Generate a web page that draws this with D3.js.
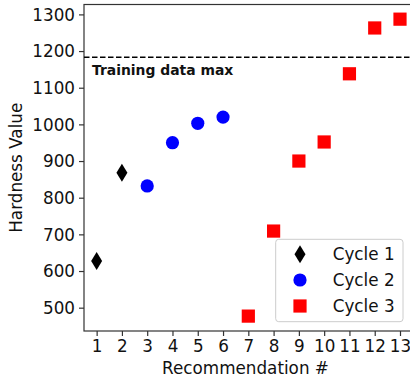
<!DOCTYPE html>
<html>
<head>
<meta charset="utf-8">
<script src="https://cdn.jsdelivr.net/npm/d3@7"></script>
<style>
  body { margin: 0; background: #fff; }
  text { font-family: "DejaVu Sans", sans-serif; }
</style>
</head>
<body>
<div id="container"></div>
<script>
const cycle1X = [1, 2]
const cycle1Y = [627, 868]
const cycle2X = [3, 4, 5, 6]
const cycle2Y = [832, 950, 1003, 1020]
const cycle3X = [7, 8, 9, 10, 11, 12, 13]
const cycle3Y = [477, 709, 900, 952, 1138, 1263, 1287]
const trainingMax = 1183
const xTicks = [1, 2, 3, 4, 5, 6, 7, 8, 9, 10, 11, 12, 13]
const yTicks = [500, 600, 700, 800, 900, 1000, 1100, 1200, 1300]
const legendLabels = ["Cycle 1", "Cycle 2", "Cycle 3"]

const w = 410
const h = 377
const mLeft = 84, mTop = 4.5, mRight = 413, mBottom = 331

const svg = d3.select("#container")
  .append("svg")
  .attr("width", w)
  .attr("height", h)

const x = d3.scaleLinear().domain([0.5, 13.5]).range([mLeft, mLeft + 13 * 25.28])
const y = d3.scaleLinear().domain([436.4, 1327]).range([mBottom, mTop])

// axes
const xAxis = svg.append("g")
  .attr("transform", `translate(0,${mBottom})`)
  .call(d3.axisBottom(x).tickValues(xTicks).tickFormat(d3.format("d")).tickSize(5).tickPadding(4))
const yAxis = svg.append("g")
  .attr("transform", `translate(${mLeft},0)`)
  .call(d3.axisLeft(y).tickValues(yTicks).tickFormat(d3.format("d")).tickSize(5).tickPadding(4))

for (const ax of [xAxis, yAxis]) {
  ax.select(".domain").remove()
  ax.selectAll("line").attr("stroke", "#333").attr("stroke-width", 1.2)
  ax.selectAll("text").attr("font-size", "16.8px").attr("fill", "#111")
}
yAxis.selectAll("text").attr("dy", "0.34em")

// frame
svg.append("rect")
  .attr("x", mLeft).attr("y", mTop)
  .attr("width", mRight - mLeft).attr("height", mBottom - mTop)
  .attr("fill", "none").attr("stroke", "#333").attr("stroke-width", 1.2)

svg.append("text")
  .attr("x", (mLeft + 407) / 2).attr("y", 374)
  .attr("text-anchor", "middle").attr("font-size", "16.8px").attr("fill", "#111")
  .text("Recommendation #")
svg.append("text")
  .attr("transform", `translate(16,${(mTop + mBottom) / 2}) rotate(-90)`)
  .attr("text-anchor", "middle").attr("dy", "0.36em").attr("font-size", "16.8px").attr("fill", "#111")
  .text("Hardness Value")

// training max line
svg.append("line")
  .attr("x1", mLeft).attr("x2", mRight)
  .attr("y1", y(trainingMax)).attr("y2", y(trainingMax))
  .attr("stroke", "#000").attr("stroke-width", 1.5)
  .attr("stroke-dasharray", "5.5,2.5")
svg.append("text")
  .attr("x", 92).attr("y", 74.5)
  .attr("font-size", "13.9px").attr("font-weight", "bold").attr("fill", "#111")
  .text("Training data max")

// markers
const diamond = "M0,-9L5.5,0L0,9L-5.5,0Z"

svg.selectAll(".c1")
  .data(cycle1X)
  .enter()
  .append("path")
  .attr("class", "c1")
  .attr("d", diamond)
  .attr("transform", (d, i) => `translate(${x(d)},${y(cycle1Y[i])})`)
  .attr("fill", "black")

svg.selectAll(".c2")
  .data(cycle2X)
  .enter()
  .append("circle")
  .attr("class", "c2")
  .attr("cx", (d) => x(d))
  .attr("cy", (d, i) => y(cycle2Y[i]))
  .attr("r", 6.6)
  .attr("fill", "blue")

svg.selectAll(".c3")
  .data(cycle3X)
  .enter()
  .append("rect")
  .attr("class", "c3")
  .attr("x", (d) => x(d) - 6.6)
  .attr("y", (d, i) => y(cycle3Y[i]) - 6.6)
  .attr("width", 13.2).attr("height", 13.2)
  .attr("fill", "red")

// legend
const lg = svg.append("g")
lg.append("rect")
  .attr("x", 275.7).attr("y", 239.3)
  .attr("width", 127.3).attr("height", 82.4)
  .attr("rx", 3)
  .attr("fill", "white").attr("fill-opacity", 0.8)
  .attr("stroke", "#ccc").attr("stroke-width", 1)

const rowY = [254.3, 280, 306]
lg.append("path").attr("d", diamond).attr("transform", `translate(300,${rowY[0]})`).attr("fill", "black")
lg.append("circle").attr("cx", 300).attr("cy", rowY[1]).attr("r", 6.6).attr("fill", "blue")
lg.append("rect").attr("x", 300 - 6.6).attr("y", rowY[2] - 6.6).attr("width", 13.2).attr("height", 13.2).attr("fill", "red")

lg.selectAll(".lt")
  .data(legendLabels)
  .enter()
  .append("text")
  .attr("class", "lt")
  .attr("x", 332.7)
  .attr("y", (d, i) => rowY[i])
  .attr("dy", "0.36em")
  .attr("font-size", "16.8px").attr("fill", "#111")
  .text((d) => d)
</script>
</body>
</html>
